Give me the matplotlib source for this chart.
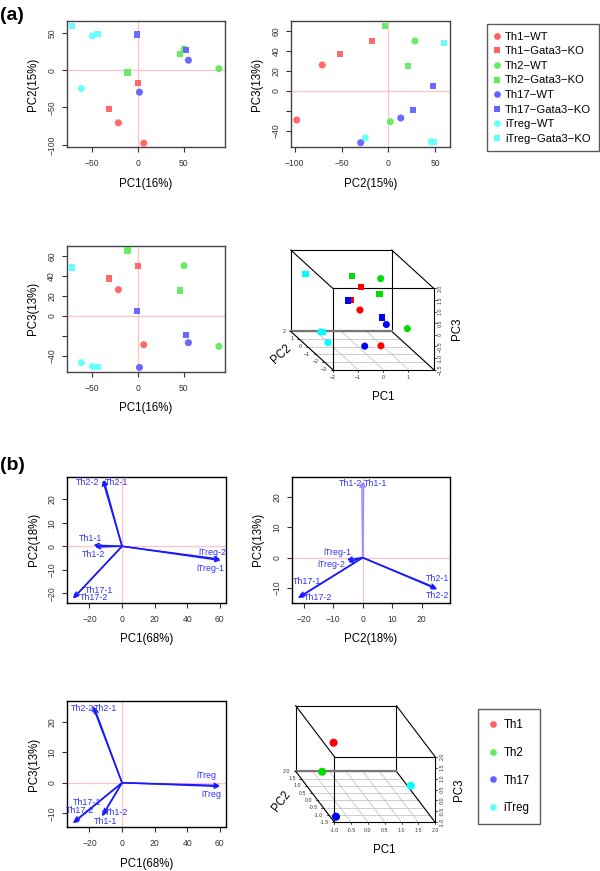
import matplotlib
matplotlib.use("Agg")
import matplotlib.pyplot as plt
from matplotlib.lines import Line2D
import numpy as np

plt.rcParams['font.family'] = ['Liberation Sans', 'DejaVu Sans']

W, H = 600, 871

# ---------------- data: panel (a) ----------------
groups_a = ["Th1\u2212WT", "Th1\u2212Gata3\u2212KO", "Th2\u2212WT", "Th2\u2212Gata3\u2212KO",
            "Th17\u2212WT", "Th17\u2212Gata3\u2212KO", "iTreg\u2212WT", "iTreg\u2212Gata3\u2212KO"]
cell_a = ["Th1", "Th1", "Th2", "Th2", "Th17", "Th17", "iTreg", "iTreg"]
geno_a = ["WT", "KO", "WT", "KO", "WT", "KO", "WT", "KO"]
# two replicates per group: PC1, PC2, PC3
pc1_a = [[-21.5, 6.2], [-31.7, 0.0], [50.3, 88.3], [-11.6, 45.6],
         [55.0, 1.5], [52.5, -1.0], [-62.0, -49.9], [-72.2, -44.4]]
pc2_a = [[-70.6, -97.9], [-51.9, -17.0], [28.5, 2.1], [-3.2, 21.4],
         [13.4, -29.5], [26.8, 48.0], [-24.6, 46.0], [59.8, 48.7]]
pc3_a = [[26.0, -29.0], [37.3, 50.0], [50.0, -30.7], [65.3, 25.3],
         [-27.0, -51.7], [-19.0, 4.7], [-47.0, -50.7], [48.3, -51.3]]
var_a = {"PC1": 16, "PC2": 15, "PC3": 13}
# scale used in the 3D plot (PC score per axis unit)
scale3d_a = [44.8, 42.2, 41.4]

# ---------------- data: panel (b) biplots ----------------
# PC1 vs PC2
b12_lab = ["Th1-1", "Th1-2", "Th2-1", "Th2-2", "Th17-1", "Th17-2", "iTreg-1", "iTreg-2"]
b12_x = [-17.5, -16.5, -11.2, -11.8, -29.5, -30.2, 60.5, 60.3]
b12_y = [0.5, -0.3, 28.3, 28.0, -21.8, -22.3, -6.0, -5.5]
b12_tx = [-19.1, -17.5, -3.3, -21.2, -13.9, -17.5, 54.0, 55.2]
b12_ty = [3.4, -3.3, 27.2, 27.2, -18.6, -21.7, -9.4, -2.6]
# PC2 vs PC3
b23_lab = ["Th1-1", "Th1-2", "Th2-1", "Th2-2", "Th17-1", "Th17-2", "iTreg-1", "iTreg-2"]
b23_x = [0.3, -0.3, 25.0, 25.3, -21.5, -22.0, -5.4, -4.9]
b23_y = [24.9, 24.9, -10.0, -10.4, -12.9, -13.3, -0.7, -1.5]
b23_tx = [4.5, -4.3, 25.5, 25.5, -18.9, -15.2, -8.7, -10.6]
b23_ty = [24.4, 24.4, -7.0, -12.5, -7.9, -13.0, 1.8, -2.4]
# PC1 vs PC3
b13_lab = ["Th1-1", "Th1-2", "Th2-1", "Th2-2", "Th17-1", "Th17-2", "iTreg", "iTreg"]
b13_x = [-12.3, -11.5, -17.0, -18.0, -29.5, -30.2, 60.0, 60.0]
b13_y = [-11.0, -10.3, 24.6, 25.2, -12.8, -13.3, -1.2, -0.9]
b13_tx = [-10.0, -3.5, -10.2, -24.5, -21.5, -26.0, 51.9, 55.0]
b13_ty = [-12.8, -9.8, 24.4, 24.4, -6.6, -9.0, 2.5, -3.8]
var_b = {"PC1": 68, "PC2": 18, "PC3": 13}

# panel (b) 3D: group centroids (scaled)
groups_b = ["Th1", "Th2", "Th17", "iTreg"]
b3_pc1 = [-0.53, -0.31, -0.92, 1.67]
b3_pc2 = [0.0, 1.7, -1.4, -0.3]
b3_pc3 = [1.64, -0.82, -0.81, -0.13]

# ---------------- styles ----------------
col_soft = {"Th1": "#FF6262", "Th2": "#62EA62", "Th17": "#6262FF", "iTreg": "#62FFFF"}
col_full = {"Th1": "#FF0000", "Th2": "#00DD00", "Th17": "#0000FF", "iTreg": "#00FFFF"}
mk = {"WT": "o", "KO": "s"}
mk_size = {"o": 26, "s": 20}
PINK = "#FFC0CB"
ARROW = "#1A1AFF"
ARROW_LIGHT = "#9C8CFF"
TXT = "#3030FF"


def ax_at(l, t, r, b):
    return fig.add_axes([l / W, 1 - b / H, (r - l) / W, (b - t) / H])


def fmt(v):
    return f"{v:g}".replace("-", "\u2212")


def style_axes(ax, xlab, ylab, xticks, yticks, ylabels=None, frame="#444444"):
    ax.set_xticks(xticks)
    ax.set_yticks(yticks)
    ax.set_yticklabels(ylabels if ylabels is not None else [fmt(v) for v in yticks],
                       rotation=90, va="center")
    ax.set_xticklabels([fmt(v) for v in xticks])
    ax.tick_params(direction="out", length=3.5, width=0.8, labelsize=6.2, colors="#333333")
    ax.tick_params(axis="x", pad=5)
    ax.tick_params(axis="y", pad=4)
    for s in ax.spines.values():
        s.set_color(frame)
        s.set_linewidth(1.0)
    ax.set_xlabel(xlab, fontsize=8.3, labelpad=7)
    ax.set_ylabel(ylab, fontsize=8.3, labelpad=6)
    ax.axhline(0, color=PINK, lw=0.9, zorder=0)
    ax.axvline(0, color=PINK, lw=0.9, zorder=0)


fig = plt.figure(figsize=(W / 100, H / 100), dpi=100)

# ---------------- panel (a) 2D scatter plots ----------------
def scatter_a(ax, xs, ys):
    for g in range(len(groups_a)):
        m = mk[geno_a[g]]
        ax.scatter(xs[g], ys[g], s=mk_size[m], marker=m, color=col_soft[cell_a[g]],
                   edgecolors="none", alpha=0.95, zorder=3)

ax1 = ax_at(66.7, 21, 225, 147)
scatter_a(ax1, pc1_a, pc2_a)
ax1.set_xlim(-78, 95)
ax1.set_ylim(-103, 66)
style_axes(ax1, "PC1(%d%%)" % var_a["PC1"], "PC2(%d%%)" % var_a["PC2"], [-50, 0, 50], [-100, -50, 0, 50])

ax2 = ax_at(291, 21, 450, 147)
scatter_a(ax2, pc2_a, pc3_a)
ax2.set_xlim(-104, 66)
ax2.set_ylim(-56, 70)
style_axes(ax2, "PC2(%d%%)" % var_a["PC2"], "PC3(%d%%)" % var_a["PC3"], [-100, -50, 0, 50],
           [-40, -20, 0, 20, 40, 60], ylabels=["\u221240", "", "0", "20", "40", "60"])

ax3 = ax_at(66.7, 245.7, 225, 371.7)
scatter_a(ax3, pc1_a, pc3_a)
ax3.set_xlim(-78, 95)
ax3.set_ylim(-56, 70)
style_axes(ax3, "PC1(%d%%)" % var_a["PC1"], "PC3(%d%%)" % var_a["PC3"], [-50, 0, 50],
           [-40, -20, 0, 20, 40, 60], ylabels=["\u221240", "", "0", "20", "40", "60"])

# legend (a)
handles_a = [Line2D([], [], ls="none", marker=mk[geno_a[g]], color=col_soft[cell_a[g]],
                    markersize=4.8 if geno_a[g] == "WT" else 4.3, markeredgewidth=0)
             for g in range(len(groups_a))]
leg = fig.legend(handles_a, groups_a, loc="upper left", bbox_to_anchor=(486.7 / W, 1 - 24.3 / H),
                 frameon=True, fancybox=False, fontsize=8.1, handlelength=0.6, handletextpad=0.4,
                 labelspacing=0.41, borderpad=0.65, borderaxespad=0)
leg.get_frame().set_edgecolor("#333333")
leg.get_frame().set_linewidth(1.0)


# ---------------- 3D oblique drawing helper ----------------
def draw_box3d(ax, rng, fw, fh, ox, oy, gridticks, lticks, ticklabels, labels, lab_off):
    (x0, x1), (y0, y1), (z0, z1) = rng

    def proj(px, py, pz):
        fx = (np.asarray(px) - x0) / (x1 - x0)
        fd = (np.asarray(py) - y0) / (y1 - y0)
        fz = (np.asarray(pz) - z0) / (z1 - z0)
        return ox * (1 - fd) + fx * fw, fz * fh + oy * fd

    ax.set_xlim(0, fw + ox)
    ax.set_ylim(0, fh + oy)
    ax.axis("off")
    # floor grid
    for xt in gridticks[0]:
        a, b = proj([xt, xt], [y0, y1], [z0, z0])
        ax.plot(a, b, color="#BBBBBB", lw=0.5, zorder=1, clip_on=False)
    for yt in gridticks[1]:
        a, b = proj([x0, x1], [yt, yt], [z0, z0])
        ax.plot(a, b, color="#BBBBBB", lw=0.5, zorder=1, clip_on=False)
    # box edges
    corners = [(x, y, z) for x in (x0, x1) for y in (y0, y1) for z in (z0, z1)]
    for i in range(8):
        for j in range(i + 1, 8):
            ci, cj = corners[i], corners[j]
            if sum(a != b for a, b in zip(ci, cj)) == 1:
                a, b = proj([ci[0], cj[0]], [ci[1], cj[1]], [ci[2], cj[2]])
                ax.plot(a, b, color="black", lw=0.8, zorder=2, clip_on=False)
    a, b = proj([x0, x1], [y1, y1], [z0, z0])
    ax.plot(a, b, color="#777777", lw=1.6, zorder=2, clip_on=False)
    # PC1 ticks along front bottom edge
    for xt, tl in zip(lticks[0], ticklabels[0]):
        a, b = proj(xt, y0, z0)
        ax.plot([a, a], [b, b - 2], color="black", lw=0.5, clip_on=False)
        ax.annotate(tl, (a, b), xytext=(0, -4), textcoords="offset points", ha="center", va="top",
                    fontsize=3.8, color="#333333", annotation_clip=False)
    # PC2 ticks along left depth edge
    for yt, tl in zip(lticks[1], ticklabels[1]):
        a, b = proj(x0, yt, z0)
        ax.plot([a, a - 2], [b, b], color="black", lw=0.5, clip_on=False)
        ax.annotate(tl, (a, b), xytext=(-4, 0), textcoords="offset points", ha="right", va="center",
                    fontsize=3.8, color="#333333", annotation_clip=False)
    # PC3 ticks along right front edge
    for zt, tl in zip(lticks[2], ticklabels[2]):
        a, b = proj(x1, y0, zt)
        ax.plot([a, a + 2], [b, b], color="black", lw=0.5, clip_on=False)
        ax.annotate(tl, (a, b), xytext=(3, 0), textcoords="offset points", ha="left", va="center",
                    rotation=90, fontsize=3.8, color="#333333", annotation_clip=False)
    # axis titles
    a, b = proj((x0 + x1) / 2, y0, z0)
    ax.annotate(labels[0], (a, b), xytext=(0, lab_off[0]), textcoords="offset points", ha="center",
                va="center", fontsize=8.3, annotation_clip=False)
    a, b = proj(x1, y0, (z0 + z1) / 2)
    ax.annotate(labels[2], (a, b), xytext=(lab_off[2], 0), textcoords="offset points", ha="center",
                va="center", rotation=90, fontsize=8.3, annotation_clip=False)
    a, b = proj(x0, (y0 + y1) / 2, z0)
    ax.annotate(labels[1], (a, b), xytext=(lab_off[1], -3), textcoords="offset points", ha="center",
                va="center", rotation=np.degrees(np.arctan2(oy, ox)), fontsize=8.3,
                annotation_clip=False)
    return proj


# panel (a) 3D
fw_a, fh_a, ox_a, oy_a = 101.0, 81.3, 42.0, 38.3
ax4 = ax_at(290.7, 250, 290.7 + fw_a + ox_a, 250 + fh_a + oy_a)
g1 = [-2, -1, 0, 1, 2]
g2 = [-3, -2, -1, 0, 1, 2]
t1 = [-2, -1, 0, 1]
t2 = [-3, -2, -1, 0, 1, 2]
t3 = [-1.5, -1.0, -0.5, 0, 0.5, 1.0, 1.5, 2.0]
s1, s2, s3 = scale3d_a
proj_a = draw_box3d(ax4, [(-2 * s1, 2 * s1), (-3 * s2, 2 * s2), (-1.5 * s3, 2 * s3)],
                    fw_a, fh_a, ox_a, oy_a,
                    [[v * s1 for v in g1], [v * s2 for v in g2]],
                    [[v * s1 for v in t1], [v * s2 for v in t2], [v * s3 for v in t3]],
                    [[fmt(v) for v in t1], [fmt(v) for v in t2],
                     ["0" if v == 0 else fmt(round(v, 1)) if v % 1 else "%.1f" % v for v in t3]],
                    ["PC1", "PC2", "PC3"], (-20, -22, 17))
for g in range(len(groups_a)):
    px, py = proj_a(pc1_a[g], pc2_a[g], pc3_a[g])
    m = mk[geno_a[g]]
    ax4.scatter(px, py, s=mk_size[m], marker=m, color=col_full[cell_a[g]], edgecolors="none",
                zorder=4, clip_on=False)

# ---------------- panel (b) biplots ----------------
def biplot(ax, xs, ys, labs, tx, ty, colors=None):
    for i, (x, y) in enumerate(zip(xs, ys)):
        c = colors[i] if colors else ARROW
        ax.annotate("", xy=(x, y), xytext=(0, 0),
                    arrowprops=dict(arrowstyle="->", color=c, lw=1.1, shrinkA=0, shrinkB=0,
                                    mutation_scale=7), zorder=3)
    for l, x, y in zip(labs, tx, ty):
        ax.text(x, y, l, color=TXT, fontsize=6.4, ha="center", va="center", zorder=4)

bx1 = ax_at(67.3, 476.7, 226, 602.7)
bx1.set_xlim(-33.6, 63.8)
bx1.set_ylim(-24.0, 29.6)
biplot(bx1, b12_x, b12_y, b12_lab, b12_tx, b12_ty)
style_axes(bx1, "PC1(%d%%)" % var_b["PC1"], "PC2(%d%%)" % var_b["PC2"], [-20, 0, 20, 40, 60],
           [-20, -10, 0, 10, 20], frame="black")

bx2 = ax_at(291.7, 476.7, 450, 602.7)
bx2.set_xlim(-24.1, 29.6)
bx2.set_ylim(-14.8, 26.6)
biplot(bx2, b23_x, b23_y, b23_lab, b23_tx, b23_ty,
       colors=[ARROW_LIGHT, ARROW_LIGHT] + [ARROW] * 6)
style_axes(bx2, "PC2(%d%%)" % var_b["PC2"], "PC3(%d%%)" % var_b["PC3"], [-20, -10, 0, 10, 20],
           [-10, 0, 10, 20], frame="black")

bx3 = ax_at(67.3, 701, 226, 827.3)
bx3.set_xlim(-33.6, 63.8)
bx3.set_ylim(-14.6, 26.8)
biplot(bx3, b13_x, b13_y, b13_lab, b13_tx, b13_ty)
style_axes(bx3, "PC1(%d%%)" % var_b["PC1"], "PC3(%d%%)" % var_b["PC3"], [-20, 0, 20, 40, 60],
           [-10, 0, 10, 20], frame="black")

# panel (b) 3D
fw_b, fh_b, ox_b, oy_b = 100.7, 65.6, 38.7, 51.0
bx4 = ax_at(295.7, 705.7, 295.7 + fw_b + ox_b, 705.7 + fh_b + oy_b)
u1 = [-1.0, -0.5, 0.0, 0.5, 1.0, 1.5, 2.0]
u2 = [-1.5, -1.0, -0.5, 0.0, 0.5, 1.0, 1.5, 2.0]
u3 = [-1.0, -0.5, 0.0, 0.5, 1.0, 1.5, 2.0]
proj_b = draw_box3d(bx4, [(-1.0, 2.0), (-1.5, 2.0), (-1.0, 2.0)], fw_b, fh_b, ox_b, oy_b,
                    [u1, u2], [u1, u2, u3],
                    [["%.1f" % v for v in u1], ["%.1f" % v for v in u2], ["%.1f" % v for v in u3]],
                    ["PC1", "PC2", "PC3"], (-20, -24, 17))
for g, name in enumerate(groups_b):
    px, py = proj_b(b3_pc1[g], b3_pc2[g], b3_pc3[g])
    bx4.scatter(px, py, s=34, marker="o", color=col_full[name], edgecolors="none", zorder=4, clip_on=False)

handles_b = [Line2D([], [], ls="none", marker="o", color=col_soft[n], markersize=4.8, markeredgewidth=0)
             for n in groups_b]
legb = fig.legend(handles_b, groups_b, loc="upper left", bbox_to_anchor=(477.7 / W, 1 - 709 / H),
                  frameon=True, fancybox=False, fontsize=8.3, handlelength=0.8, handletextpad=0.55,
                  labelspacing=1.35, borderpad=0.9, borderaxespad=0)
legb.get_frame().set_edgecolor("#333333")
legb.get_frame().set_linewidth(1.0)

# panel letters
fig.text(0 / W, 1 - 15 / H, "(a)", fontsize=14, fontweight="bold", ha="left", va="center")
fig.text(0 / W, 1 - 465 / H, "(b)", fontsize=14, fontweight="bold", ha="left", va="center")

fig.savefig("out.png", dpi=100)
